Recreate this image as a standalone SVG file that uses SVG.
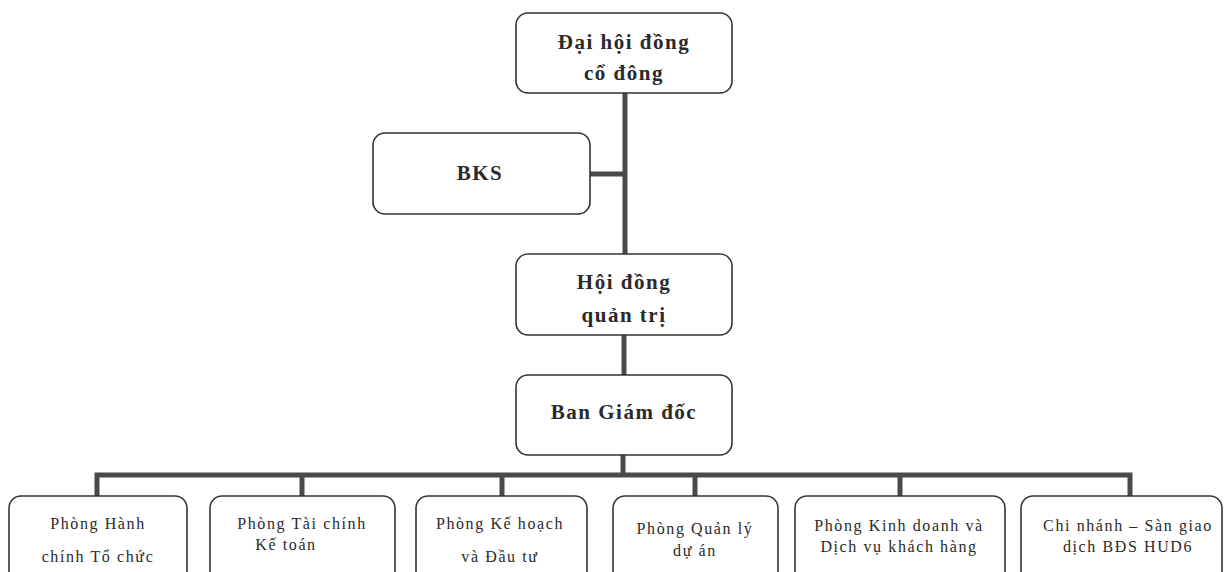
<svg xmlns="http://www.w3.org/2000/svg" width="1229" height="572" viewBox="0 0 1229 572">
<style>
.box{fill:#fff;stroke:#333;stroke-width:1.6}
.big{font-family:"Liberation Serif","Times New Roman",serif;font-size:21px;font-weight:bold;fill:#2a2a2a;text-anchor:middle;letter-spacing:1.5px}
.sm{font-family:"Liberation Serif","Times New Roman",serif;font-size:16px;fill:#2a2a2a;text-anchor:middle;letter-spacing:1.6px}
.con{stroke:#4a4a4a;stroke-width:5;fill:none}
</style>
<rect width="1229" height="572" fill="#fff"/>
<g id="connectors">
<line class="con" x1="625" y1="93" x2="625" y2="254"/>
<line class="con" x1="590" y1="174" x2="625" y2="174"/>
<line class="con" x1="624" y1="335" x2="624" y2="375"/>
<line class="con" x1="623" y1="455" x2="623" y2="475"/>
<polyline class="con" points="97,496 97,475 1130,475 1130,496"/>
<line class="con" x1="302" y1="475" x2="302" y2="496"/>
<line class="con" x1="502" y1="475" x2="502" y2="496"/>
<line class="con" x1="695" y1="475" x2="695" y2="496"/>
<line class="con" x1="900" y1="475" x2="900" y2="496"/>
</g>
<g id="dhdcd">
<rect class="box" x="516" y="13" width="216" height="80" rx="12"/>
<text class="big" x="624" y="49">Đại hội đồng</text>
<text class="big" x="624" y="80">cổ đông</text>
</g>
<g id="bks">
<rect class="box" x="373" y="133" width="217" height="81" rx="12"/>
<text class="big" x="480" y="180">BKS</text>
</g>
<g id="hdqt">
<rect class="box" x="516" y="254" width="216" height="81" rx="12"/>
<text class="big" x="624" y="289">Hội đồng</text>
<text class="big" x="624" y="322">quản trị</text>
</g>
<g id="bgd">
<rect class="box" x="516" y="375" width="216" height="80" rx="12"/>
<text class="big" x="624" y="419">Ban Giám đốc</text>
</g>
<g id="p1">
<rect class="box" x="9" y="496" width="178" height="90" rx="12"/>
<text class="sm" x="98" y="529">Phòng Hành</text>
<text class="sm" x="98" y="562">chính Tổ chức</text>
</g>
<g id="p2">
<rect class="box" x="210" y="496" width="185" height="90" rx="12"/>
<text class="sm" x="302" y="529">Phòng Tài chính</text>
<text class="sm" x="286" y="550">Kế toán</text>
</g>
<g id="p3">
<rect class="box" x="416" y="496" width="171" height="90" rx="12"/>
<text class="sm" x="500" y="529">Phòng Kế hoạch</text>
<text class="sm" x="500" y="562">và Đầu tư</text>
</g>
<g id="p4">
<rect class="box" x="613" y="496" width="165" height="90" rx="12"/>
<text class="sm" x="695" y="534">Phòng Quản lý</text>
<text class="sm" x="695" y="556">dự án</text>
</g>
<g id="p5">
<rect class="box" x="795" y="496" width="210" height="90" rx="12"/>
<text class="sm" x="899" y="531">Phòng Kinh doanh và</text>
<text class="sm" x="899" y="552">Dịch vụ khách hàng</text>
</g>
<g id="p6">
<rect class="box" x="1021" y="496" width="201" height="90" rx="12"/>
<text class="sm" x="1128" y="531">Chi nhánh – Sàn giao</text>
<text class="sm" x="1128" y="552">dịch BĐS HUD6</text>
</g>
</svg>
